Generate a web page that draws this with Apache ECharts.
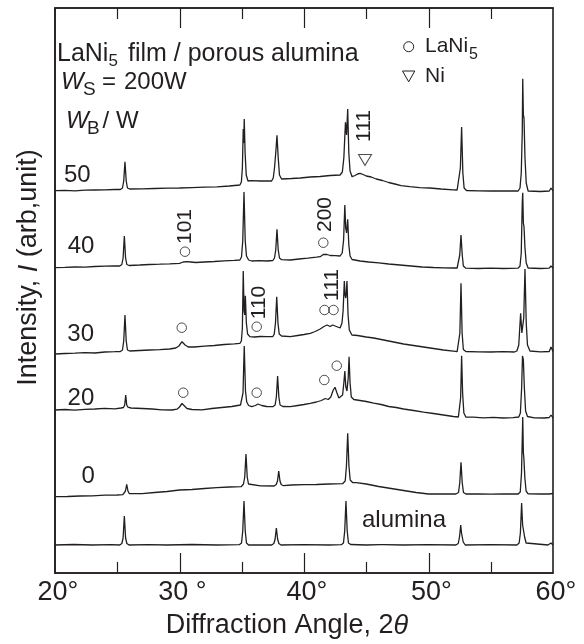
<!DOCTYPE html>
<html><head><meta charset="utf-8">
<script src="https://cdn.jsdelivr.net/npm/echarts@6/dist/echarts.min.js"></script>
<style>html,body{margin:0;padding:0;background:#fff}#c{width:584px;height:644px}</style>
</head><body><div id="c"></div>
<script>
// ---- data (x = diffraction angle 2θ in degrees, y = stacked intensity, arb. units) ----
const tickValues = [20, 30, 40, 50, 60];
const tickLabels = ['20°', '30 °', '40°', '50°', '60°'];
const minorTickValues = [25, 35, 45, 55];

const alumina = [[20.0,28],[21.5,28.5],[23.0,28],[24.5,28.3],[25.2,28],[25.37,29.5],[25.47,35],[25.57,57],[25.67,35],[25.77,29.5],[25.95,28],[27.5,28.3],[29.0,28],[31.0,28.5],[33.0,28],[34.8,28.3],[34.98,30],[35.08,42],[35.18,72],[35.28,42],[35.38,30],[35.55,28],[37.4,28],[37.58,29.5],[37.68,34],[37.78,45],[37.88,34],[37.98,29.5],[38.15,28],[40.0,28.3],[42.0,28],[43.0,28.3],[43.17,30],[43.27,42],[43.37,72],[43.47,42],[43.57,30],[43.75,28.5],[45.0,28],[46.1,28.3],[46.24,30],[46.4,28.3],[48.0,28],[50.0,28.3],[52.2,28],[52.39,29.5],[52.49,36],[52.59,48],[52.65,40],[52.69,39],[52.79,31],[52.95,28],[55.0,28.3],[57.1,28],[57.28,30],[57.38,40],[57.48,70],[57.56,48],[57.64,46],[57.72,36],[57.84,30],[58.0,28],[59.6,28],[59.75,28.5],[59.84,30],[59.95,28.5],[60.0,28]];

const wb0 = [[20.0,76.3],[21.0,76.5],[22.0,77],[23.0,77.2],[24.0,77.8],[25.0,78],[25.45,78.3],[25.56,79.5],[25.66,82],[25.76,88.7],[25.86,82],[25.96,79.5],[26.1,78.6],[27.0,79.3],[28.0,80.5],[29.0,81.5],[30.0,83],[31.0,83.5],[32.0,84.5],[33.0,85.3],[34.0,86],[34.95,86.3],[35.14,89],[35.24,96],[35.34,119],[35.44,96],[35.54,89],[35.7,87],[36.5,87.2],[37.6,87],[37.77,88.5],[37.87,92],[37.97,102],[38.07,92],[38.17,88.5],[38.35,87.3],[39.0,88],[40.0,88.3],[41.0,88.5],[42.0,89],[43.1,89.3],[43.31,92],[43.41,107],[43.51,139.7],[43.61,107],[43.71,93],[43.9,90.5],[44.2,90.3],[45.0,89],[46.0,86.5],[47.0,84.5],[48.0,82.5],[49.0,80.5],[50.0,79],[51.0,79],[52.2,79],[52.41,80.5],[52.51,90],[52.61,110.7],[52.71,90],[52.81,80.5],[53.0,79],[54.0,79.2],[55.0,78.8],[56.0,79],[57.2,79],[57.37,81],[57.47,100],[57.57,156],[57.62,120],[57.66,115],[57.74,95],[57.84,82],[58.0,79.2],[59.0,79],[59.7,79],[59.84,81],[60.0,79.5]];

const wb20 = [[20.0,163],[20.8,163.5],[21.6,162.8],[22.4,163.6],[23.2,164],[24.0,164.6],[24.8,164.2],[25.3,165],[25.5,165.5],[25.6,168],[25.68,178],[25.76,168],[25.86,165.8],[26.1,165],[27.0,164.5],[27.8,164],[28.6,163.2],[29.4,163],[29.8,163.8],[30.0,166],[30.2,169.5],[30.4,167],[30.6,164.5],[31.0,163.5],[31.8,163.2],[32.6,164.5],[33.4,165.5],[34.2,166.5],[34.9,168],[35.0,169],[35.1,180],[35.2,227],[35.3,182],[35.4,171],[35.55,167.5],[35.8,166.3],[36.1,167.5],[36.3,169],[36.6,167.5],[37.0,166.5],[37.5,166.3],[37.68,168],[37.78,176],[37.88,197],[37.98,176],[38.08,168],[38.3,166.5],[38.9,166.3],[39.5,167.5],[40.0,168.5],[40.5,169.7],[41.0,171],[41.4,172.5],[41.7,174.5],[41.95,173.5],[42.15,176],[42.35,183],[42.49,185.7],[42.65,180],[42.8,175],[42.95,174],[43.1,178],[43.2,190],[43.28,202],[43.36,186],[43.45,182],[43.55,195],[43.62,216.3],[43.7,190],[43.8,176],[44.0,173.5],[44.5,172.5],[45.0,171.5],[45.6,169.8],[46.2,168.5],[46.8,166.5],[47.4,165.5],[48.0,164],[48.8,162.5],[49.6,160.8],[50.4,159.5],[51.2,158],[52.0,156.5],[52.4,156],[52.5,158],[52.58,175],[52.66,217.3],[52.74,180],[52.84,160],[53.0,156],[53.6,155.8],[54.4,155.2],[55.2,155.6],[56.0,155],[56.8,155.3],[57.25,156],[57.38,160],[57.48,185],[57.55,217],[57.62,213],[57.7,185],[57.8,162],[57.95,156.5],[58.5,155.2],[59.3,155],[59.7,155.5],[59.84,158],[60.0,155]];

const wb30 = [[20.0,219],[20.8,219.5],[21.6,219.8],[22.4,220.3],[23.2,220],[24.0,221],[24.8,221.3],[25.25,221.5],[25.42,223],[25.52,232],[25.62,258],[25.72,232],[25.82,223],[26.0,222],[26.8,222.5],[27.6,223],[28.4,223.4],[29.2,224],[29.7,225],[29.95,227],[30.2,231.3],[30.45,228],[30.7,226],[31.2,226],[32.0,226.8],[32.8,227.5],[33.6,228.5],[34.4,229.2],[34.85,229.7],[34.97,232],[35.05,245],[35.12,302],[35.19,262],[35.24,258],[35.29,277.3],[35.37,250],[35.47,239],[35.65,236.3],[36.0,236],[36.5,236.5],[37.0,236.3],[37.5,236.5],[37.61,239],[37.71,250],[37.81,276.3],[37.91,250],[38.01,239],[38.2,237],[38.9,236.3],[39.5,237.5],[40.0,238.5],[40.5,239.7],[40.9,241.5],[41.3,244],[41.6,246.5],[41.85,248],[42.1,246.5],[42.3,248],[42.5,247],[42.7,246],[42.9,245],[43.05,250],[43.14,262],[43.24,292],[43.3,278],[43.35,275],[43.4,280],[43.45,292],[43.54,258],[43.64,243],[43.85,238],[44.3,237.5],[45.0,236],[45.6,235],[46.2,233.5],[46.8,232],[47.4,230.5],[48.0,229],[48.8,227.5],[49.6,226],[50.4,224.5],[51.2,223],[52.0,221.8],[52.3,221.3],[52.42,223],[52.52,240],[52.61,289.7],[52.7,240],[52.8,223.5],[53.0,221.5],[54.0,221.2],[55.0,221],[56.0,221.3],[56.9,221],[57.1,222],[57.25,228],[57.4,259.7],[57.5,240],[57.57,238],[57.65,255],[57.75,304],[57.85,250],[57.95,228],[58.15,222],[59.0,221.2],[59.7,221.5],[59.84,226],[60.0,221.5]];

const wb40 = [[20.0,305.3],[20.8,305.6],[21.6,306],[22.4,305.8],[23.2,306.5],[24.0,306.8],[24.8,307],[25.2,307],[25.37,308.5],[25.47,315],[25.57,337],[25.67,315],[25.77,308.5],[25.95,307.5],[26.8,308],[27.6,308.5],[28.4,308.8],[29.2,309.2],[30.0,309.7],[30.3,311],[30.6,311.3],[30.9,311],[31.3,310.5],[32.0,311],[32.8,311.5],[33.6,312.2],[34.4,312.6],[34.85,313],[34.98,316],[35.08,332],[35.18,381],[35.28,332],[35.38,317],[35.55,313],[35.8,312],[36.4,312.3],[37.0,312],[37.5,312.5],[37.63,315],[37.73,323],[37.83,343.7],[37.93,323],[38.03,315],[38.2,313.3],[38.9,313],[39.6,314],[40.3,314.8],[41.0,315.8],[41.3,316.3],[41.55,318.5],[41.7,320.3],[41.85,318.5],[42.1,317.5],[42.5,317.3],[42.9,317],[43.07,320],[43.18,333],[43.28,368],[43.35,345],[43.42,340],[43.51,353.7],[43.6,328],[43.7,317],[43.86,313.5],[44.5,312],[45.2,311],[46.0,310.2],[46.8,309],[47.7,308],[48.6,307],[49.5,306],[50.4,305.5],[51.2,305.2],[52.0,305],[52.3,305],[52.42,307],[52.51,318],[52.61,338],[52.71,318],[52.8,307],[53.0,304.8],[54.0,304.5],[55.0,304.8],[56.0,304.5],[57.2,304.8],[57.35,307],[57.45,320],[57.53,370],[57.57,380.3],[57.62,350],[57.67,346.3],[57.75,325],[57.85,310],[58.0,305],[59.0,304.5],[59.7,304.8],[59.84,307],[60.0,305]];

const wb50 = [[20.0,382.3],[20.8,382.6],[21.6,382.2],[22.4,382.8],[23.2,383],[24.0,383.2],[24.8,383.5],[25.25,383.5],[25.42,385],[25.52,392],[25.62,411.3],[25.72,392],[25.82,385],[26.0,384],[27.0,384.2],[28.0,384.5],[29.0,384.8],[30.0,385],[31.0,385.4],[32.0,385.8],[33.0,386.2],[34.0,387],[34.85,388],[34.97,391],[35.05,405],[35.12,444],[35.16,430],[35.2,454],[35.27,420],[35.36,398],[35.5,392],[35.7,392.3],[36.5,392],[37.4,392],[37.53,395],[37.63,405],[37.73,420],[37.83,437.7],[37.93,415],[38.03,398],[38.2,394],[39.0,394.5],[39.7,395],[40.5,396],[41.3,396.5],[42.1,397.5],[42.9,398],[43.08,401],[43.2,415],[43.33,450.7],[43.42,438],[43.51,464],[43.6,420],[43.7,402],[43.86,396.3],[44.1,397.5],[44.3,399],[44.5,399.7],[44.75,398.5],[45.0,397],[45.4,396],[45.8,394],[46.3,392.5],[46.8,390.5],[47.3,389],[47.8,387.3],[48.5,386.3],[49.3,385.3],[50.1,385],[51.0,384],[52.0,383.2],[52.3,383],[52.44,385],[52.56,405],[52.66,446],[52.76,400],[52.86,385],[53.05,382.5],[54.0,382.2],[55.0,382],[56.0,382.2],[57.2,382],[57.35,385],[57.45,400],[57.53,440],[57.57,494.3],[57.62,458],[57.67,455],[57.75,415],[57.85,390],[58.0,382],[59.0,381.5],[59.7,382],[59.84,385],[60.0,382]];

// LaNi5 reflection markers (○) and Ni marker (▽), placed at [2θ, stacked intensity]
const laNi5Marks = [[30.3,180.3],[36.2,180.3],[41.63,193],[42.63,207.3],[30.18,245.3],[36.2,246.3],[41.65,263],[42.37,263],[30.44,321.3],[41.55,330.3]];
const niMarks = [[44.9,413]];

// ---- chart ----
const FONT = '"Liberation Sans", Arial, Helvetica, sans-serif';
const INK = '#231f20';
const chart = echarts.init(document.getElementById('c'), null, {renderer: 'canvas'});

function lineSeries(name, data) {
  return {name, type: 'line', data, showSymbol: false, symbol: 'none',
    lineStyle: {color: INK, width: 1.3}, silent: true, z: 2};
}
// text helper: x = left (or centre), b = baseline
function txt(text, x, b, fs, extra) {
  const o = Object.assign({align: 'left', italic: false, rot: 0}, extra || {});
  return {type: 'text', x: x, y: o.rot ? b : b - 0.35 * fs, rotation: o.rot, silent: true, z: 10,
    style: {text: text, fontSize: fs, fontFamily: FONT, fontStyle: o.italic ? 'italic' : 'normal',
      fill: INK, align: o.align, verticalAlign: 'middle'}};
}
const R90 = Math.PI / 2;

const xCommon = {type: 'value', min: 20, max: 60, interval: 10,
  splitLine: {show: false}, minorSplitLine: {show: false},
  axisLine: {show: true, onZero: false, lineStyle: {color: INK, width: 1.6}},
  axisTick: {show: false}, minorTick: {show: false}};

chart.setOption({
  animation: false,
  backgroundColor: '#fff',
  grid: {left: 55, right: 31, top: 8, bottom: 71, show: true, borderColor: INK, borderWidth: 1.6, backgroundColor: 'transparent'},
  xAxis: [
    Object.assign({}, xCommon, {position: 'bottom',
      axisLabel: {show: true, margin: 6, fontSize: 27, fontFamily: FONT, color: INK, padding: [0, 0, 0, 6],
        formatter: v => tickLabels[tickValues.indexOf(v)]}}),
    Object.assign({}, xCommon, {position: 'top', axisLabel: {show: false}})
  ],
  yAxis: {type: 'value', min: 0, max: 565, axisLine: {show: true, onZero: false, lineStyle: {color: INK, width: 1.6}}, axisTick: {show: false},
    axisLabel: {show: false}, splitLine: {show: false}},
  series: [
    lineSeries('alumina', alumina),
    lineSeries('0', wb0),
    lineSeries('20', wb20),
    lineSeries('30', wb30),
    lineSeries('40', wb40),
    lineSeries('50', wb50),
    {type: 'scatter', data: laNi5Marks, symbol: 'circle', symbolSize: 9.5, silent: true, z: 5,
      itemStyle: {color: 'rgba(0,0,0,0)', borderColor: INK, borderWidth: 1}},
    {type: 'scatter', data: niMarks, symbol: 'triangle', symbolRotate: 180, symbolSize: [13, 11], silent: true, z: 5,
      itemStyle: {color: 'rgba(0,0,0,0)', borderColor: INK, borderWidth: 1}}
  ]
});

// inward ticks on bottom and top edges, positioned through the x axis scale
const yBottom = chart.convertToPixel({yAxisIndex: 0}, 0);
const yTop = chart.convertToPixel({yAxisIndex: 0}, 565);
const tickEls = [];
function addTick(v, len) {
  const px = Math.round(chart.convertToPixel({xAxisIndex: 0}, v)) + 0.5;
  tickEls.push({type: 'line', silent: true, z: 3, shape: {x1: px, y1: yBottom, x2: px, y2: yBottom - len}, style: {stroke: INK, lineWidth: 1.2}});
  tickEls.push({type: 'line', silent: true, z: 3, shape: {x1: px, y1: yTop, x2: px, y2: yTop + len}, style: {stroke: INK, lineWidth: 1.2}});
}
tickValues.slice(1, -1).forEach(v => addTick(v, 20));
minorTickValues.forEach(v => addTick(v, 11));

chart.setOption({graphic: tickEls.concat([
    // header block
    txt('LaNi', 57, 63.3, 25),
    txt('5', 108.5, 67, 17),
    txt('film / porous alumina', 128, 63.3, 25),
    txt('W', 61, 90.7, 24, {italic: true}),
    txt('S', 83, 96.7, 19),
    txt('=', 102, 90.7, 24),
    txt('200W', 124, 90.7, 24),
    txt('W', 66, 130, 24, {italic: true}),
    txt('B', 87, 135, 19),
    txt('/', 102.5, 130, 24),
    txt('W', 116, 130, 24),
    // legend
    {type: 'circle', shape: {cx: 408.7, cy: 46.7, r: 5}, silent: true, style: {fill: 'none', stroke: INK, lineWidth: 1}},
    txt('LaNi', 425, 53.3, 21),
    txt('5', 469, 60, 16),
    {type: 'polygon', shape: {points: [[402.5, 71], [414.8, 71], [408.7, 81.8]]}, silent: true, style: {fill: 'none', stroke: INK, lineWidth: 1}},
    txt('Ni', 425, 84, 21),
    // curve labels
    txt('50', 64, 183.3, 24),
    txt('40', 67.7, 255, 24),
    txt('30', 67.3, 343, 24),
    txt('20', 67.6, 406.7, 24),
    txt('0', 81.5, 485, 24),
    txt('alumina', 362, 529, 24),
    // hkl labels (rotated)
    txt('101', 185, 226.5, 21, {align: 'center', rot: R90}),
    txt('200', 325.5, 214.5, 21, {align: 'center', rot: R90}),
    txt('110', 259, 302.5, 21, {align: 'center', rot: R90}),
    txt('111', 332.5, 285, 21, {align: 'center', rot: R90}),
    txt('111', 364, 126, 21, {align: 'center', rot: R90}),
    // axis titles
    {type: 'text', x: 29, y: 267.5, rotation: R90, silent: true,
      style: {text: 'Intensity, {i|I} (arb,unit)', fontSize: 27, fontFamily: FONT, fill: INK, align: 'center', verticalAlign: 'middle',
        rich: {i: {fontSize: 27, fontFamily: FONT, fontStyle: 'italic', fill: INK}}}},
    {type: 'text', x: 287, y: 626, silent: true,
      style: {text: 'Diffraction Angle, 2{i|θ}', fontSize: 27, fontFamily: FONT, fill: INK, align: 'center', verticalAlign: 'middle',
        rich: {i: {fontSize: 27, fontFamily: FONT, fontStyle: 'italic', fill: INK}}}}
  ])});
</script>
</body></html>
